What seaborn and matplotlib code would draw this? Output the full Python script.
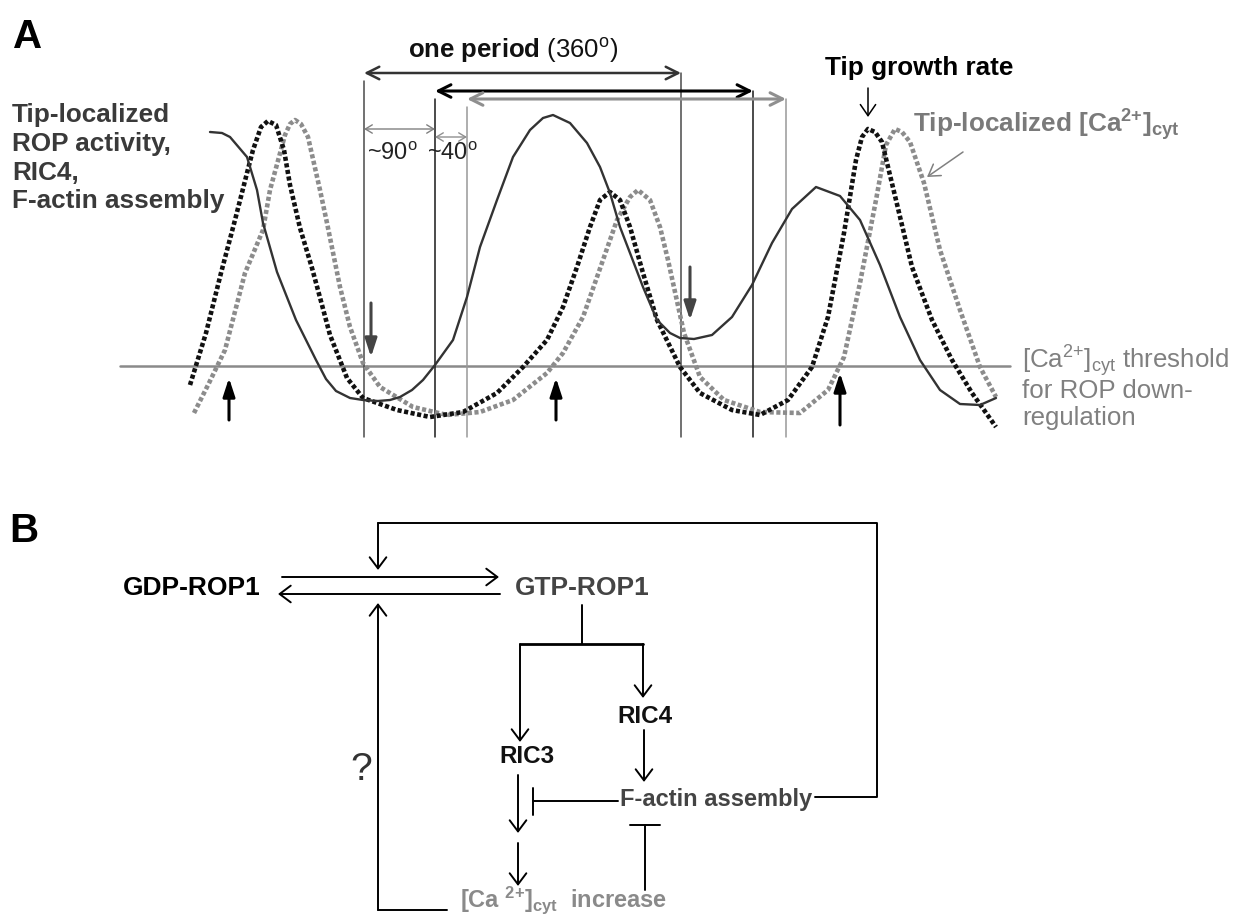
import matplotlib
matplotlib.use("Agg")
import matplotlib.pyplot as plt
import seaborn as sns
import pandas as pd

# ---------------- data (panel A curves, in image pixel units) ----------------
rop_x = [210, 222, 230, 247, 257, 263, 277, 296, 316, 326, 336, 350, 363, 378, 390, 400,
         412, 423, 435, 453, 467, 480, 497, 513, 530, 543, 553, 570, 587, 600, 610, 620,
         630, 643, 657, 670, 680, 694, 712, 732, 752, 772, 792, 816, 840, 860, 880, 900,
         920, 940, 960, 980, 996]
rop_y = [132, 133, 137, 157, 190, 223, 272, 320, 360, 379, 391, 398, 400, 401, 400, 397,
         390, 380, 365, 340, 297, 247, 200, 157, 130, 118, 115, 123, 143, 167, 193, 227,
         253, 287, 320, 333, 338, 339, 335, 317, 285, 243, 209, 187, 196, 220, 265, 317,
         360, 390, 404, 405, 398]

growth_x = [190, 206, 221, 235, 247, 253, 261, 268, 276, 284, 290, 300, 312, 322, 330,
            347, 363, 397, 430, 463, 497, 523, 547, 563, 577, 590, 600, 610, 620, 630,
            643, 657, 680, 700, 732, 760, 788, 812, 828, 844, 856, 862, 868, 875, 882,
            896, 912, 932, 952, 972, 996]
growth_y = [385, 333, 273, 220, 173, 150, 127, 121, 125, 150, 185, 228, 268, 305, 335,
            378, 398, 410, 417, 412, 393, 367, 340, 307, 267, 227, 200, 192, 200, 227,
            273, 320, 367, 393, 410, 415, 400, 367, 317, 233, 160, 137, 129, 132, 142,
            200, 267, 320, 360, 393, 427]

ca_x = [194, 209, 225, 245, 263, 270, 285, 290, 295, 301, 308, 320, 327, 340, 350,
        363, 380, 413, 447, 480, 513, 547, 563, 583, 603, 617, 630, 638, 650, 660,
        668, 684, 700, 724, 760, 800, 828, 844, 860, 876, 886, 895, 902, 910, 924,
        940, 960, 980, 996]
ca_y = [413, 383, 350, 273, 230, 190, 135, 124, 120, 124, 137, 190, 223, 287, 327,
        363, 387, 407, 415, 412, 400, 373, 353, 317, 260, 220, 197, 190, 200, 227,
        260, 333, 377, 400, 412, 413, 390, 357, 283, 200, 145, 129, 132, 142, 183,
        250, 310, 367, 397]

threshold_y = 366
period_starts = [364, 435, 467]
period_ends = [681, 753, 786]
period_arrow_y = [73, 91, 99]
up_arrow_x = [229, 556, 840]
down_arrow_x = [371, 690]

left_label_lines = ["Tip-localized", "ROP activity,", "RIC4,", "F-actin assembly"]
threshold_lines = [r"[Ca$^{\mathrm{2{+}}}$]$_{\mathrm{cyt}}$ threshold", "for ROP down-",
                   "regulation"]

# ---------------- style ----------------
sns.set_theme(style="white")
plt.rcParams["font.family"] = ["Liberation Sans", "DejaVu Sans"]
plt.rcParams["mathtext.fontset"] = "custom"
plt.rcParams["mathtext.rm"] = "Liberation Sans"
plt.rcParams["mathtext.bf"] = "Liberation Sans:bold"
plt.rcParams["mathtext.it"] = "Liberation Sans:italic"

fig = plt.figure(figsize=(12.48, 9.17), dpi=100)
ax = fig.add_axes([0, 0, 1, 1])

DARK = "#333333"
GRAY = "#8a8a8a"


def arrow(x0, y0, x1, y1, color="black", lw=1.4, style="->", hl=8, hw=5.5):
    ax.annotate("", xy=(x1, y1), xytext=(x0, y0),
                arrowprops=dict(arrowstyle=f"{style},head_length={hl},head_width={hw}",
                                color=color, lw=lw, shrinkA=0, shrinkB=0,
                                mutation_scale=1))


# ---------------- panel A curves ----------------
df_ca = pd.DataFrame({"x": ca_x, "y": ca_y})
df_gr = pd.DataFrame({"x": growth_x, "y": growth_y})
df_rop = pd.DataFrame({"x": rop_x, "y": rop_y})
sns.lineplot(data=df_ca, x="x", y="y", ax=ax, sort=False, estimator=None,
             color="#8c8c8c", lw=3.3, linestyle=(0, (0.9, 0.55)), zorder=3)
sns.lineplot(data=df_gr, x="x", y="y", ax=ax, sort=False, estimator=None,
             color="#111111", lw=3.3, linestyle=(0, (0.9, 0.55)), zorder=4)
sns.lineplot(data=df_rop, x="x", y="y", ax=ax, sort=False, estimator=None,
             color=DARK, lw=1.7, zorder=5)
ax.set_xlim(0, 1248)
ax.set_ylim(917, 0)
ax.axis("off")

ax.plot([120, 1010], [threshold_y, threshold_y], color=GRAY, lw=1.8, zorder=1)

vcolors = ["#4a4a4a", "#1a1a1a", "#999999"]
for xs, xe, ya, c in zip(period_starts, period_ends, period_arrow_y, vcolors):
    ax.plot([xs, xs], [ya + 8, 437], color=c, lw=1.1, zorder=1)
    ax.plot([xe, xe], [ya, 437], color=c, lw=1.1, zorder=1)
acolors = ["#333333", "#000000", "#8f8f8f"]
alws = [1.8, 2.2, 2.2]
for xs, xe, ya, c, w in zip(period_starts, period_ends, period_arrow_y, acolors, alws):
    arrow(xs, ya, xe, ya, color=c, lw=w, style="<->", hl=9, hw=4.5)

# small angle arrows
arrow(364, 129, 435, 129, color="#808080", lw=1.0, style="<->", hl=5, hw=3)
arrow(435, 137, 467, 137, color="#909090", lw=1.0, style="<->", hl=5, hw=3)
ax.text(367, 160, r"~90$^{\mathrm{o}}$", fontsize=17, color="#222222", va="baseline")
ax.text(427, 160, r"~40$^{\mathrm{o}}$", fontsize=17, color="#222222", va="baseline")

# thick arrows
for i, x in enumerate(up_arrow_x):
    y0 = 425 if i == 2 else 420
    y1 = 373 if i == 2 else 378
    arrow(x, y0, x, y1, color="black", lw=2.2, style="-|>", hl=11, hw=3.6)
arrow(down_arrow_x[0], 303, down_arrow_x[0], 357, color="#444444", lw=2.2,
      style="-|>", hl=11, hw=3.6)
arrow(down_arrow_x[1], 267, down_arrow_x[1], 320, color="#444444", lw=2.2,
      style="-|>", hl=11, hw=3.6)

# labels
ax.text(13, 48, "A", fontsize=29, fontweight="bold", va="baseline", color="black")
for txt, yb in zip(left_label_lines, [122, 151, 180, 208]):
    ax.text(12, yb, txt, fontsize=18.8, fontweight="bold", color="#3a3a3a", va="baseline")

ax.text(408, 58, r"$\mathbf{one\ period}$ (360$^{\mathrm{o}}$)", fontsize=18.5,
        color="#111111", va="baseline")
ax.text(825, 75, "Tip growth rate", fontsize=18.8, fontweight="bold", color="black",
        va="baseline")
arrow(868, 88, 868, 117, color="black", lw=1.1, style="->", hl=8, hw=5.5)
ax.text(913, 132, r"Tip-localized [Ca$^{\mathbf{2{+}}}$]$_{\mathbf{cyt}}$", fontsize=18.8,
        fontweight="bold", color="#7a7a7a", va="baseline")
arrow(963, 152, 927, 177, color="#808080", lw=1.1, style="->", hl=8, hw=5)

for txt, yb in zip(threshold_lines, [368, 398, 425]):
    ax.text(1022, yb, txt, fontsize=18.6, color="#808080", va="baseline")

# ---------------- panel B ----------------
ax.text(9, 542, "B", fontsize=29, fontweight="bold", va="baseline", color="black")
ax.text(123, 595, "GDP-ROP1", fontsize=19, fontweight="bold", color="black", va="baseline")
ax.text(515, 595, "GTP-ROP1", fontsize=19, fontweight="bold", color="#444444", va="baseline")
ax.text(617, 723, "RIC4", fontsize=17.5, fontweight="bold", color="#111111", va="baseline")
ax.text(499, 763, "RIC3", fontsize=17.5, fontweight="bold", color="#111111", va="baseline")
ax.text(620, 806, "F-actin assembly", fontsize=17, fontweight="bold", color="#444444",
        va="baseline")
ax.text(460, 907, r"[Ca $^{\mathbf{2{+}}}$]$_{\mathbf{cyt}}$  increase", fontsize=17,
        fontweight="bold", color="#8a8a8a", va="baseline")
ax.text(350, 780, "?", fontsize=28, color="#333333", va="baseline")

BLW = 1.4
# exchange arrows
arrow(282, 577, 499, 577, lw=BLW, hl=8, hw=6)
arrow(500, 594, 278, 594, lw=BLW, hl=8, hw=6)
# positive feedback from F-actin to activation
ax.plot([815, 877, 877, 378], [797, 797, 523, 523], color="black", lw=BLW)
arrow(378, 523, 378, 570, lw=BLW, hl=8, hw=6)
# Ca feedback (?)
ax.plot([447, 378], [910, 910], color="black", lw=BLW)
arrow(378, 910, 378, 603, lw=BLW, hl=8, hw=6)
# GTP-ROP1 branches
ax.plot([582, 582], [605, 644], color="black", lw=BLW)
ax.plot([520, 643], [644, 644], color="black", lw=2.0)
arrow(520, 644, 520, 742, lw=BLW, hl=8, hw=6)
arrow(643, 644, 643, 698, lw=BLW, hl=8, hw=6)
arrow(644, 730, 644, 782, lw=BLW, hl=8, hw=6)
# RIC3 -> Ca
arrow(518, 775, 518, 833, lw=BLW, hl=8, hw=6)
arrow(518, 843, 518, 886, lw=BLW, hl=8, hw=6)
# F-actin inhibits RIC3 path
ax.plot([618, 533], [801, 801], color="black", lw=BLW)
ax.plot([533, 533], [788, 815], color="black", lw=BLW)
# Ca inhibits F-actin
ax.plot([645, 645], [890, 825], color="black", lw=BLW)
ax.plot([630, 660], [825, 825], color="black", lw=BLW)

fig.savefig("out.png", dpi=100)
